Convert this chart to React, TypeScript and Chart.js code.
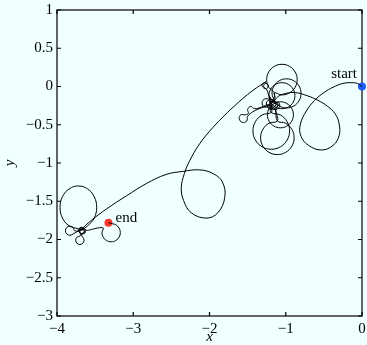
import React, { useEffect, useRef } from "react";
import { Chart, registerables } from "chart.js";
Chart.register(...registerables);

const BG = "#f0ffff";
const SERIF = '"Liberation Serif"';

// axis ranges / ticks
const xRange = [-4, 0];
const yRange = [-3, 1];
const xStep = 1;
const yStep = 0.5;

// trajectory segments [x, y]
const startLeg: number[][] = [
  [0, 0], [-0.06, 0.04], [-0.14, 0.05], [-0.25, 0.04], [-0.38, -0.01], [-0.5, -0.08], [-0.62, -0.18],
  [-0.73, -0.32], [-0.81, -0.5], [-0.8, -0.65], [-0.7, -0.77], [-0.53, -0.83], [-0.38, -0.77],
  [-0.3, -0.64], [-0.3, -0.49], [-0.35, -0.36], [-0.45, -0.26], [-0.58, -0.18], [-0.72, -0.12],
  [-0.87, -0.08], [-1.0, -0.09], [-1.1, -0.13], [-1.17, -0.2],
];

const loopC: number[][] = [
  [-1.22, -0.12], [-1.197, -0.035], [-1.135, 0.027], [-1.05, 0.05], [-0.965, 0.027], [-0.903, -0.035], [-0.88, -0.12],
  [-0.903, -0.205], [-0.965, -0.267], [-1.05, -0.29], [-1.135, -0.267], [-1.197, -0.205], [-1.22, -0.12],
];
const coreA: number[][] = [[-1.2, -0.17], [-1.25, -0.2], [-1.24, -0.26], [-1.18, -0.28], [-1.13, -0.24], [-1.15, -0.18]];
const loopD: number[][] = [
  [-1.155, -0.223], [-1.217, -0.285], [-1.24, -0.37], [-1.217, -0.455], [-1.155, -0.517], [-1.07, -0.54], [-0.985, -0.517],
  [-0.923, -0.455], [-0.9, -0.37], [-0.923, -0.285], [-0.985, -0.223], [-1.07, -0.2], [-1.155, -0.223],
];
const coreB: number[][] = [[-1.1, -0.2], [-1.08, -0.26], [-1.13, -0.3], [-1.19, -0.27], [-1.18, -0.21], [-1.14, -0.15]];
const loopA: number[][] = [
  [-1.15, -0.083], [-1.05, -0.11], [-0.95, -0.083], [-0.877, -0.01], [-0.85, 0.09], [-0.877, 0.19], [-0.95, 0.263],
  [-1.05, 0.29], [-1.15, 0.263], [-1.223, 0.19], [-1.25, 0.09], [-1.223, -0.01], [-1.15, -0.083],
];
const coreC: number[][] = [[-1.17, -0.17], [-1.27, -0.16], [-1.31, -0.21], [-1.28, -0.27], [-1.22, -0.25], [-1.21, -0.19], [-1.19, -0.28]];
const loopE1: number[][] = [
  [-1.19, -0.34], [-1.31, -0.372], [-1.398, -0.46], [-1.43, -0.58], [-1.398, -0.7], [-1.31, -0.788], [-1.19, -0.82],
  [-1.07, -0.788], [-0.982, -0.7], [-0.95, -0.58], [-0.982, -0.46], [-1.07, -0.372], [-1.19, -0.34],
];
const curlLeft: number[][] = [
  [-1.22, -0.24], [-1.32, -0.27], [-1.41, -0.29], [-1.46, -0.26], [-1.5, -0.3], [-1.49, -0.35], [-1.53, -0.37],
  [-1.59, -0.37], [-1.61, -0.42], [-1.57, -0.47], [-1.51, -0.45], [-1.5, -0.39], [-1.43, -0.33], [-1.32, -0.28],
  [-1.2, -0.25], [-1.14, -0.3],
];
const loopE2: number[][] = [
  [-1.11, -0.45], [-1.0, -0.48], [-0.92, -0.56], [-0.89, -0.67], [-0.92, -0.78], [-1.0, -0.86], [-1.11, -0.89],
  [-1.22, -0.86], [-1.3, -0.78], [-1.33, -0.67], [-1.3, -0.56], [-1.22, -0.48], [-1.11, -0.45],
];
const coreD: number[][] = [[-1.13, -0.3], [-1.1, -0.24], [-1.15, -0.2], [-1.2, -0.23], [-1.18, -0.19]];
const loopB: number[][] = [
  [-1.155, -0.185], [-1.18, -0.09], [-1.155, 0.005], [-1.085, 0.075], [-0.99, 0.1], [-0.895, 0.075], [-0.825, 0.005],
  [-0.8, -0.09], [-0.825, -0.185], [-0.895, -0.255], [-0.99, -0.28], [-1.085, -0.255], [-1.155, -0.185],
];
const coreE: number[][] = [
  [-1.2, -0.22], [-1.24, -0.27], [-1.17, -0.3], [-1.11, -0.25], [-1.16, -0.2], [-1.22, -0.12], [-1.25, -0.04],
  [-1.29, 0.0], [-1.27, 0.04], [-1.23, 0.02], [-1.25, -0.03], [-1.3, -0.01], [-1.31, 0.03], [-1.26, 0.06],
];

const transit: number[][] = [
  [-1.43, -0.05], [-1.69, -0.27], [-1.95, -0.53], [-2.13, -0.75], [-2.26, -0.97], [-2.33, -1.14], [-2.37, -1.32],
  [-2.34, -1.49], [-2.24, -1.65], [-2.04, -1.72], [-1.89, -1.65], [-1.8, -1.45], [-1.83, -1.25], [-1.95, -1.14],
  [-2.13, -1.09], [-2.35, -1.11], [-2.57, -1.15], [-2.83, -1.27], [-3.09, -1.43], [-3.35, -1.6], [-3.55, -1.75], [-3.66, -1.85],
];

const coreTwo: number[][] = [[-3.7, -1.9], [-3.66, -1.93], [-3.63, -1.88], [-3.67, -1.84], [-3.72, -1.87], [-3.69, -1.92], [-3.64, -1.9], [-3.68, -1.87]];
const bigLoop: number[][] = [
  [-3.72, -1.86], [-3.84, -1.822], [-3.928, -1.72], [-3.96, -1.58], [-3.928, -1.44], [-3.84, -1.338], [-3.72, -1.3],
  [-3.6, -1.338], [-3.512, -1.44], [-3.48, -1.58], [-3.512, -1.72], [-3.6, -1.822], [-3.69, -1.88],
];
const smallLeft: number[][] = [
  [-3.77, -1.885], [-3.788, -1.843], [-3.83, -1.825], [-3.872, -1.843], [-3.89, -1.885], [-3.872, -1.927], [-3.83, -1.945],
  [-3.788, -1.927], [-3.74, -1.9], [-3.66, -1.86], [-3.63, -1.91], [-3.68, -1.93],
];
const smallBottom: number[][] = [
  [-3.7, -1.955], [-3.739, -1.971], [-3.755, -2.01], [-3.739, -2.049], [-3.7, -2.065], [-3.661, -2.049], [-3.645, -2.01],
  [-3.661, -1.971], [-3.69, -1.93], [-3.71, -1.88], [-3.66, -1.85], [-3.62, -1.88],
];
const endLeg: number[][] = [
  [-3.55, -1.87], [-3.47, -1.85], [-3.394, -1.85], [-3.41, -1.91], [-3.394, -1.97], [-3.35, -2.014], [-3.29, -2.03],
  [-3.23, -2.014], [-3.186, -1.97], [-3.17, -1.91], [-3.186, -1.85], [-3.23, -1.806], [-3.27, -1.795], [-3.325, -1.78],
];

const startPoint = { x: 0, y: 0, label: "start" };
const endPoint = { x: -3.325, y: -1.78, label: "end" };

const fmt = (v: number) => (v < 0 ? "\u2212" + String(Math.abs(v)) : String(v));

export default function App() {
  const ref = useRef<HTMLCanvasElement>(null);
  useEffect(() => {
    document.body.style.margin = "0";
    document.body.style.background = BG;
    const path = [
      ...startLeg, ...loopC, ...coreA, ...loopD, ...coreB, ...loopA, ...coreC, ...loopE1, ...curlLeft,
      ...loopE2, ...coreD, ...loopB, ...coreE, ...transit, ...coreTwo, ...bigLoop, ...smallLeft, ...smallBottom, ...endLeg,
    ].map(([x, y]) => ({ x, y }));

    const framePlugin = {
      id: "frame",
      beforeDraw(c: any) {
        const { ctx, width, height } = c;
        ctx.save();
        ctx.fillStyle = BG;
        ctx.fillRect(0, 0, width, height);
        ctx.restore();
      },
      beforeDatasetsDraw(c: any) {
        const { ctx, chartArea: a, scales } = c;
        ctx.save();
        ctx.strokeStyle = "#000";
        ctx.lineWidth = 1.2;
        ctx.strokeRect(a.left, a.top, a.right - a.left, a.bottom - a.top);
        const tl = 4;
        ctx.beginPath();
        scales.x.ticks.forEach((t: any) => {
          const px = scales.x.getPixelForValue(t.value);
          ctx.moveTo(px, a.bottom);
          ctx.lineTo(px, a.bottom - tl);
          ctx.moveTo(px, a.top);
          ctx.lineTo(px, a.top + tl);
        });
        scales.y.ticks.forEach((t: any) => {
          const py = scales.y.getPixelForValue(t.value);
          ctx.moveTo(a.left, py);
          ctx.lineTo(a.left + tl, py);
          ctx.moveTo(a.right, py);
          ctx.lineTo(a.right - tl, py);
        });
        ctx.stroke();
        ctx.restore();
      },
      afterDatasetsDraw(c: any) {
        const { ctx, scales } = c;
        ctx.save();
        ctx.fillStyle = "#000";
        ctx.font = "15px " + SERIF;
        ctx.textBaseline = "alphabetic";
        const sx = scales.x.getPixelForValue(startPoint.x);
        const sy = scales.y.getPixelForValue(startPoint.y);
        ctx.textAlign = "right";
        ctx.fillText(startPoint.label, sx - 5, sy - 9);
        const ex = scales.x.getPixelForValue(endPoint.x);
        const ey = scales.y.getPixelForValue(endPoint.y);
        ctx.textAlign = "left";
        ctx.fillText(endPoint.label, ex + 7, ey - 1);
        ctx.restore();
      },
    };

    const chart = new Chart(ref.current!, {
      type: "scatter",
      data: {
        datasets: [
          {
            data: path,
            showLine: true,
            borderColor: "#000",
            borderWidth: 1,
            pointRadius: 0,
            tension: 0.4,
            fill: false,
          } as any,
          {
            data: [{ x: startPoint.x, y: startPoint.y }],
            pointRadius: 4,
            backgroundColor: "#1f5bff",
            borderWidth: 0,
            clip: false,
          } as any,
          {
            data: [{ x: endPoint.x, y: endPoint.y }],
            pointRadius: 4,
            backgroundColor: "#ff3a2a",
            borderWidth: 0,
            clip: false,
          } as any,
        ],
      },
      options: {
        responsive: false,
        animation: false,
        layout: { padding: 0 },
        plugins: { legend: { display: false }, tooltip: { enabled: false } },
        scales: {
          x: {
            type: "linear",
            min: xRange[0],
            max: xRange[1],
            grid: { display: false, drawTicks: false },
            border: { display: false },
            ticks: {
              stepSize: xStep,
              padding: 4,
              color: "#000",
              font: { family: SERIF, size: 15 },
              maxRotation: 0,
              callback: (v: any) => fmt(Number(v)),
            },
            title: {
              display: true,
              text: "x",
              color: "#000",
              font: { family: SERIF, size: 15, style: "italic", lineHeight: 1 },
              padding: { top: 0, bottom: 0 },
            },
            afterFit: (s: any) => {
              s.height = 29;
              s.paddingLeft = 0;
              s.paddingRight = 5;
            },
          },
          y: {
            type: "linear",
            min: yRange[0],
            max: yRange[1],
            grid: { display: false, drawTicks: false },
            border: { display: false },
            ticks: {
              stepSize: yStep,
              padding: 4,
              color: "#000",
              font: { family: SERIF, size: 15 },
              callback: (v: any) => fmt(Number(v)),
            },
            title: {
              display: true,
              text: "y",
              color: "#000",
              font: { family: SERIF, size: 15, style: "italic", lineHeight: 1 },
              padding: { top: 3, bottom: 0 },
            },
            afterFit: (s: any) => {
              s.width = 57;
              s.paddingTop = 10;
              s.paddingBottom = 0;
            },
          },
        },
      } as any,
      plugins: [framePlugin],
    });
    return () => chart.destroy();
  }, []);
  return (
    <div style={{ width: 367, height: 345 }}>
      <canvas ref={ref} width={367} height={345} style={{ display: "block" }} />
    </div>
  );
}
